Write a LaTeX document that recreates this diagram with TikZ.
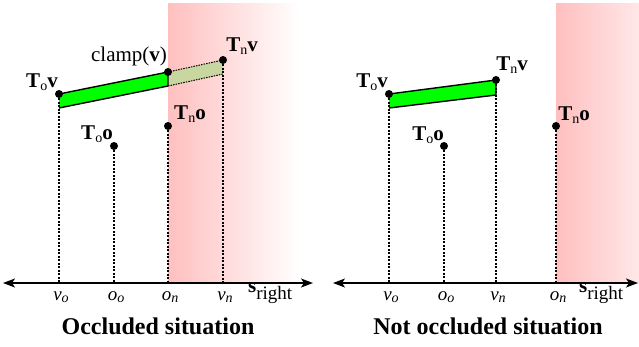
\documentclass[tikz,border=0pt]{standalone}
\usepackage{fontspec}
\setmainfont{Liberation Serif}
\usetikzlibrary{arrows.meta}
\newcommand\lowsub[2][14]{\raisebox{-0.3ex}{\fontsize{#1}{#1}\selectfont #2}}
\definecolor{bandgreen}{RGB}{0,255,0}
\definecolor{ghost}{RGB}{200,214,160}
\tikzset{
  dot/.style={circle, fill=black, inner sep=0pt, minimum size=8pt},
  lab/.style={font=\fontsize{21}{23}\selectfont, inner sep=0pt},
  axlab/.style={font=\fontsize{19}{21}\selectfont, inner sep=0pt, anchor=base},
  guide/.style={line width=1.1pt, dash pattern=on 2.2pt off 1.3pt},
  axisline/.style={line width=1.4pt, {Stealth[length=12pt,width=9pt,inset=3pt]}-{Stealth[length=12pt,width=9pt,inset=3pt]}},
  edge/.style={line width=1.4pt, line join=round},
  ghostedge/.style={line width=1pt, dash pattern=on 1.5pt off 1.1pt},
  title/.style={font=\fontsize{24}{26}\selectfont\bfseries, inner sep=0pt, anchor=base}
}
\begin{document}
\begin{tikzpicture}[x=1pt,y=-1pt]
\useasboundingbox (0,0) rectangle (639,346);
% occlusion regions
\begin{scope}
  \clip (0,0) rectangle (639,346);
  \shade[left color=red!25, right color=white] (168,3) rectangle (300,283);
  \shade[left color=red!25, right color=white] (556,3) rectangle (688,283);
\end{scope}

% ---------- left panel ----------
\coordinate (LA) at (59,94);
\coordinate (LB) at (168,72);
\coordinate (LC) at (168,86);
\coordinate (LD) at (59,108);
\coordinate (LE) at (223,60);
\coordinate (LF) at (223,74);
\fill[bandgreen] (LA) -- (LB) -- (LC) -- (LD) -- cycle;
\fill[ghost] (LB) -- (LE) -- (LF) -- (LC) -- cycle;
\draw[ghostedge] (LB) -- (LE);
\draw[ghostedge] (LC) -- (LF);
\draw[edge] (LA) -- (LB) -- (LC);
\draw[edge] (LD) -- (LC);

\coordinate (Lvo) at (59,283);
\coordinate (Loo) at (114,283);
\coordinate (Lon) at (168,283);
\coordinate (Lvn) at (223,283);

\node[dot] (LTov) at (LA) {};
\node[dot] (Lclamp) at (LB) {};
\node[dot] (LTnv) at (223,60) {};
\node[dot] (LTno) at (168,126) {};
\node[dot] (LToo) at (114,146) {};

\draw[guide] (LTov) -- (Lvo);
\draw[guide] (LTnv) -- (Lvn);
\draw[guide] (LTno) -- (Lon);
\draw[guide] (LToo) -- (Loo);

\coordinate (LaxL) at (3,283);
\coordinate (LaxR) at (313,283);
\draw[axisline] (LaxL) -- (LaxR);

\node[lab] (lLTov) at (42,82) {\textbf{T}\lowsub{o}\textbf{v}};
\node[lab] (lLclamp) at (129,56) {clamp(\textbf{v})};
\node[lab] (lLTnv) at (242,46) {\textbf{T}\lowsub{n}\textbf{v}};
\node[lab] (lLTno) at (190,114) {\textbf{T}\lowsub{n}\textbf{o}};
\node[lab] (lLToo) at (97,134) {\textbf{T}\lowsub{o}\textbf{o}};

\node[axlab] (tLvo) at (61,300) {\textit{v}\lowsub{\textit{o}}};
\node[axlab] (tLoo) at (116,300) {\textit{o}\lowsub{\textit{o}}};
\node[axlab] (tLon) at (170,300) {\textit{o}\lowsub{\textit{n}}};
\node[axlab] (tLvn) at (225,300) {\textit{v}\lowsub{\textit{n}}};
\node[axlab, anchor=base west] (tLs) at (248,292) {{\fontsize{21}{21}\selectfont\textbf{s}}\raisebox{-7pt}{\fontsize{19}{19}\selectfont right}};

\node[title] (titleL) at (158,334) {Occluded situation};

% ---------- right panel ----------
\coordinate (RA) at (389,94);
\coordinate (RB) at (496,80);
\coordinate (RC) at (496,95);
\coordinate (RD) at (389,108);
\fill[bandgreen] (RA) -- (RB) -- (RC) -- (RD) -- cycle;
\draw[edge] (RA) -- (RB) -- (RC);
\draw[edge] (RD) -- (RC);

\coordinate (Rvo) at (389,283);
\coordinate (Roo) at (444,283);
\coordinate (Rvn) at (496,283);
\coordinate (Ron) at (556,283);

\node[dot] (RTov) at (RA) {};
\node[dot] (RTnv) at (RB) {};
\node[dot] (RTno) at (556,126) {};
\node[dot] (RToo) at (444,146) {};

\draw[guide] (RTov) -- (Rvo);
\draw[guide] (RTnv) -- (Rvn);
\draw[guide] (RTno) -- (Ron);
\draw[guide] (RToo) -- (Roo);

\coordinate (RaxL) at (333,283);
\coordinate (RaxR) at (638,283);
\draw[axisline] (RaxL) -- (RaxR);

\node[lab] (lRTov) at (372,82) {\textbf{T}\lowsub{o}\textbf{v}};
\node[lab] (lRTnv) at (512,65) {\textbf{T}\lowsub{n}\textbf{v}};
\node[lab] (lRTno) at (574,115) {\textbf{T}\lowsub{n}\textbf{o}};
\node[lab] (lRToo) at (428,135) {\textbf{T}\lowsub{o}\textbf{o}};

\node[axlab] (tRvo) at (391,300) {\textit{v}\lowsub{\textit{o}}};
\node[axlab] (tRoo) at (446,300) {\textit{o}\lowsub{\textit{o}}};
\node[axlab] (tRvn) at (498,300) {\textit{v}\lowsub{\textit{n}}};
\node[axlab] (tRon) at (558,300) {\textit{o}\lowsub{\textit{n}}};
\node[axlab, anchor=base west] (tRs) at (579,292) {{\fontsize{21}{21}\selectfont\textbf{s}}\raisebox{-7pt}{\fontsize{19}{19}\selectfont right}};

\node[title] (titleR) at (488,334) {Not occluded situation};
\end{tikzpicture}
\end{document}
